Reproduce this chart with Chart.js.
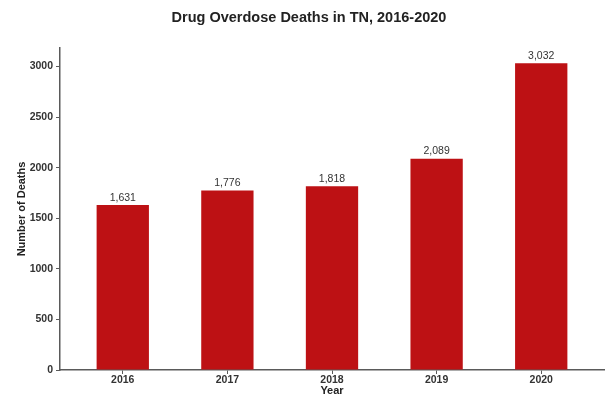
<!DOCTYPE html>
<html>
<head>
<meta charset="utf-8">
<script src="https://cdn.jsdelivr.net/npm/chart.js@4/dist/chart.umd.min.js"></script>
<style>
  html, body { margin: 0; padding: 0; background: #fff; }
  #wrap { width: 613px; height: 400px; }
</style>
</head>
<body>
<div id="wrap"><canvas id="deathsChart" width="613" height="400"></canvas></div>
<script>
const years = ["2016", "2017", "2018", "2019", "2020"];
const deaths = [1631, 1776, 1818, 2089, 3032];
const yTicks = [0, 500, 1000, 1500, 2000, 2500, 3000];

const FONT = "'Liberation Sans', Arial, sans-serif";
const AXIS_GREY = "#5a5a5a";

// value labels on top of each bar
const barLabels = {
  id: "barLabels",
  afterDatasetsDraw(chart) {
    const ctx = chart.ctx;
    const meta = chart.getDatasetMeta(0);
    ctx.save();
    ctx.font = "10.5px " + FONT;
    ctx.fillStyle = "#333";
    ctx.textAlign = "center";
    ctx.textBaseline = "bottom";
    meta.data.forEach((bar, i) => {
      ctx.fillText(deaths[i].toLocaleString("en-US"), bar.x, bar.y - 2);
    });
    ctx.restore();
  }
};

new Chart(document.getElementById("deathsChart"), {
  type: "bar",
  data: {
    datasets: [{
      label: "Number of Deaths",
      data: deaths.map((d, i) => ({ x: i + 1, y: d })),
      backgroundColor: "#bd1114",
      borderWidth: 0,
      categoryPercentage: 1,
      barPercentage: 0.5
    }]
  },
  options: {
    responsive: false,
    animation: false,
    layout: { padding: { left: 14, right: 9, top: 0, bottom: 0 } },
    plugins: {
      legend: { display: false },
      tooltip: { enabled: false },
      title: {
        display: true,
        text: "Drug Overdose Deaths in TN, 2016-2020",
        color: "#222",
        font: { family: FONT, size: 14.5, weight: "bold" },
        padding: { top: 9.3, bottom: 21.3 }
      }
    },
    scales: {
      x: {
        type: "linear",
        min: 0.4,
        max: 5.6,
        offset: false,
        afterBuildTicks: (s) => { s.ticks = years.map((y, i) => ({ value: i + 1 })); },
        afterFit: (s) => { s.height = 30; },
        ticks: {
          callback: (v) => years[v - 1],
          color: "#333",
          padding: 0,
          maxRotation: 0,
          font: { family: FONT, size: 10.5, weight: "bold" }
        },
        grid: { offset: false, drawOnChartArea: false, tickLength: 4, color: AXIS_GREY, lineWidth: 1 },
        border: { display: true, color: AXIS_GREY, width: 1.5 },
        title: {
          display: true,
          text: "Year",
          color: "#222",
          padding: { top: 0, bottom: 2.4 },
          font: { family: FONT, size: 11, weight: "bold" }
        }
      },
      y: {
        min: 0,
        max: 3184,
        afterBuildTicks: (s) => { s.ticks = yTicks.map(v => ({ value: v })); },
        afterFit: (s) => { s.width = 46; },
        ticks: {
          callback: (v) => String(v),
          color: "#333",
          padding: 3,
          font: { family: FONT, size: 10.5, weight: "bold" }
        },
        grid: { drawOnChartArea: false, tickLength: 4, color: AXIS_GREY, lineWidth: 1 },
        border: { display: true, color: AXIS_GREY, width: 1.5 },
        title: {
          display: true,
          text: "Number of Deaths",
          color: "#222",
          padding: { top: 1.4, bottom: 0 },
          font: { family: FONT, size: 11, weight: "bold" }
        }
      }
    }
  },
  plugins: [barLabels]
});
</script>
</body>
</html>
